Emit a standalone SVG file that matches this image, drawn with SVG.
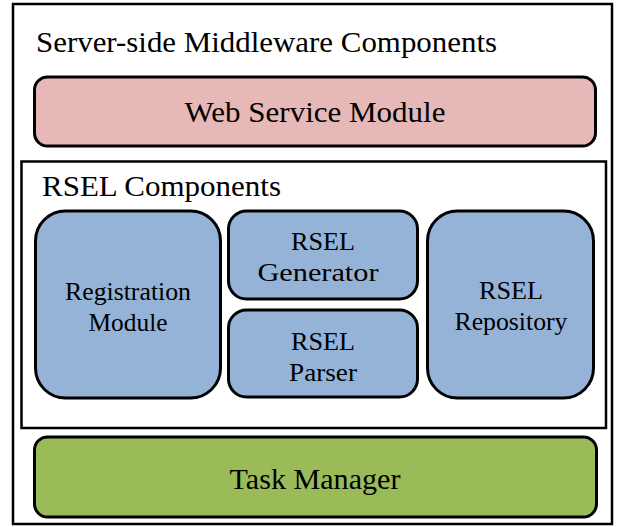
<svg xmlns="http://www.w3.org/2000/svg" width="618" height="527" viewBox="0 0 618 527">
<style>
.h{font-size:29px}
.n{font-size:25px;text-anchor:middle}
.box{fill:none;stroke:#000;stroke-width:2.5}
.node{stroke:#000;stroke-width:3}
.pink{fill:#e6b8b7}
.blue{fill:#95b3d7}
.green{fill:#9bbb59}
</style>
<rect width="618" height="527" fill="#fff"/>
<g font-family="Liberation Serif, DejaVu Serif, serif" fill="#000">
<g id="server-side">
<rect class="box" x="13" y="4" width="599" height="520"/>
<text class="h" x="36" y="52" textLength="461" lengthAdjust="spacingAndGlyphs">Server-side Middleware Components</text>
</g>
<g id="web-service-module">
<rect class="node pink" x="34.5" y="77" width="561" height="69" rx="13"/>
<text class="h" x="315" y="122" text-anchor="middle" textLength="261" lengthAdjust="spacingAndGlyphs">Web Service Module</text>
</g>
<g id="rsel-components">
<rect class="box" x="21.5" y="161.5" width="584.5" height="266.5"/>
<text class="h" x="42" y="196" textLength="239" lengthAdjust="spacingAndGlyphs">RSEL Components</text>
</g>
<g id="registration-module">
<rect class="node blue" x="35.5" y="211" width="185" height="187" rx="30"/>
<text class="n" x="128" y="300" textLength="126" lengthAdjust="spacingAndGlyphs">Registration</text>
<text class="n" x="128" y="331" textLength="79" lengthAdjust="spacingAndGlyphs">Module</text>
</g>
<g id="rsel-generator">
<rect class="node blue" x="228.5" y="211" width="189" height="88" rx="18"/>
<text class="n" x="323" y="250" textLength="64" lengthAdjust="spacingAndGlyphs">RSEL</text>
<text class="n" x="318" y="281" textLength="121" lengthAdjust="spacingAndGlyphs">Generator</text>
</g>
<g id="rsel-parser">
<rect class="node blue" x="228.5" y="310" width="189" height="87" rx="18"/>
<text class="n" x="323" y="350" textLength="64" lengthAdjust="spacingAndGlyphs">RSEL</text>
<text class="n" x="323" y="381" textLength="68" lengthAdjust="spacingAndGlyphs">Parser</text>
</g>
<g id="rsel-repository">
<rect class="node blue" x="427.5" y="211" width="166" height="187" rx="30"/>
<text class="n" x="511" y="299" textLength="64" lengthAdjust="spacingAndGlyphs">RSEL</text>
<text class="n" x="511" y="330" textLength="113" lengthAdjust="spacingAndGlyphs">Repository</text>
</g>
<g id="task-manager">
<rect class="node green" x="34.5" y="437" width="562" height="80" rx="13"/>
<text class="h" x="315" y="489" text-anchor="middle" textLength="171" lengthAdjust="spacingAndGlyphs">Task Manager</text>
</g>
</g>
<g id="connectors"></g>
</svg>
